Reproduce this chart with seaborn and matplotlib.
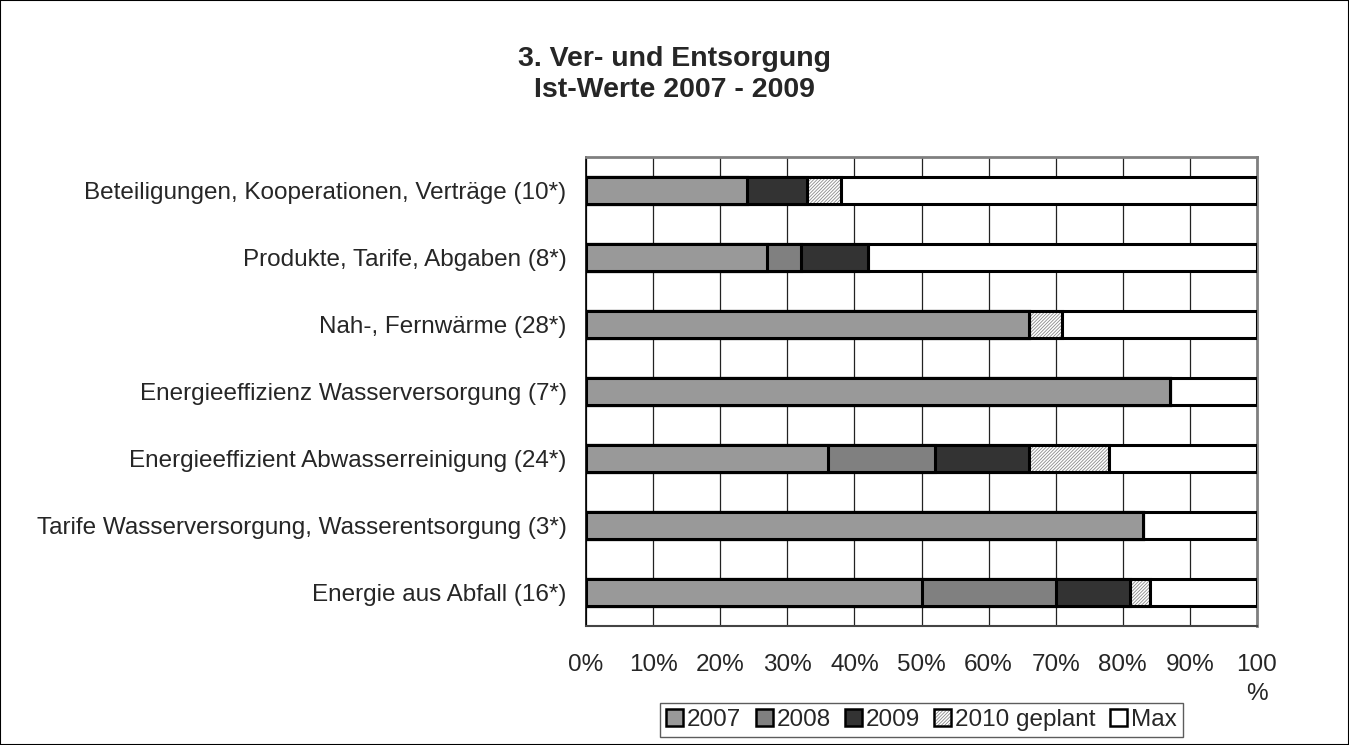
import numpy as np
import pandas as pd
import matplotlib
matplotlib.use("Agg")
import matplotlib.pyplot as plt
import seaborn as sns
from matplotlib.colors import to_rgba
from matplotlib.patches import Patch, Rectangle

# Data (percent shares per category)
categories = [
    "Beteiligungen, Kooperationen, Verträge (10*)",
    "Produkte, Tarife, Abgaben (8*)",
    "Nah-, Fernwärme (28*)",
    "Energieeffizienz Wasserversorgung (7*)",
    "Energieeffizient Abwasserreinigung (24*)",
    "Tarife Wasserversorgung, Wasserentsorgung (3*)",
    "Energie aus Abfall (16*)",
]
v2007 = [24, 27, 66, 87, 36, 83, 50]
v2008 = [0, 5, 0, 0, 16, 0, 20]
v2009 = [9, 10, 0, 0, 14, 0, 11]
v2010 = [5, 0, 5, 0, 12, 0, 3]
vmax = [62, 58, 29, 13, 22, 17, 16]
series = ["2007", "2008", "2009", "2010 geplant", "Max"]
xticks = ["0%", "10%", "20%", "30%", "40%", "50%", "60%", "70%", "80%", "90%", "100\n%"]

sns.set_style("white")
plt.rcParams["font.family"] = ["Liberation Sans", "DejaVu Sans"]
plt.rcParams["hatch.linewidth"] = 0.6

df = pd.DataFrame({"cat": categories, "2007": v2007, "2008": v2008,
                   "2009": v2009, "2010 geplant": v2010, "Max": vmax})
cum = df[series].cumsum(axis=1)

colors = {"2007": "#999999", "2008": "#808080", "2009": "#333333",
          "2010 geplant": "white", "Max": "white"}
hatch_col = to_rgba("#8a8a8a")
hatch = "//////////"

fig = plt.figure(figsize=(13.49, 7.45), dpi=100)
ax = fig.add_axes([0.4344, 0.1597, 0.4974, 0.6295])

# stacked look: draw cumulative bars from longest to shortest
n = len(categories)
for s in reversed(series):
    sns.barplot(x=cum[s], y=df["cat"], orient="h", color=colors[s],
                edgecolor="black", linewidth=2.2, width=0.4, saturation=1,
                ax=ax, zorder=3)
    if s == "2010 geplant":
        for p in ax.patches[-n:]:
            p.set_hatch(hatch)
            p._hatch_color = hatch_col

fs = 17.5
ax.set_xlim(0, 100)
ax.set_ylim(n - 0.5, -0.5)
ax.set_xticks(np.arange(0, 101, 10))
ax.set_xticklabels(xticks, fontsize=fs, linespacing=1.4)
ax.tick_params(axis="y", which="major", length=0, labelsize=fs, pad=14)
ax.set_yticks(np.arange(-0.5, n, 1), minor=True)
ax.tick_params(axis="y", which="minor", length=8, direction="out", color="#555555")
ax.tick_params(axis="x", length=5, direction="out", color="#555555", pad=15)
ax.set_xlabel("")
ax.set_ylabel("")
ax.grid(axis="x", color="#222222", linewidth=0.9, zorder=0)
ax.set_axisbelow(True)
for side in ["top", "right"]:
    ax.spines[side].set_color("#808080")
    ax.spines[side].set_linewidth(2)
ax.spines["left"].set_color("black")
ax.spines["bottom"].set_color("#444444")
ax.spines["left"].set_linewidth(1.2)
ax.spines["bottom"].set_linewidth(1.5)

fig.suptitle("3. Ver- und Entsorgung\nIst-Werte 2007 - 2009", x=0.5, y=0.938,
             va="top", fontsize=20.5, fontweight="bold", linespacing=1.25)

handles = []
for s in series:
    h = Patch(facecolor=colors[s], edgecolor="black", linewidth=1.8, label=s)
    if s == "2010 geplant":
        h.set_hatch(hatch)
        h._hatch_color = hatch_col
    handles.append(h)
fig.legend(handles=handles, loc="center", bbox_to_anchor=(0.683, 0.034),
           ncol=5, frameon=True, fancybox=False, edgecolor="#333333",
           fontsize=fs, handlelength=0.7, handleheight=0.7,
           handletextpad=0.15, columnspacing=0.6, borderpad=0.25,
           borderaxespad=0)

fig.patches.append(Rectangle((0, 0), 1, 1, transform=fig.transFigure,
                             fill=False, edgecolor="black", linewidth=1.5))

fig.savefig("out.png", dpi=100)
